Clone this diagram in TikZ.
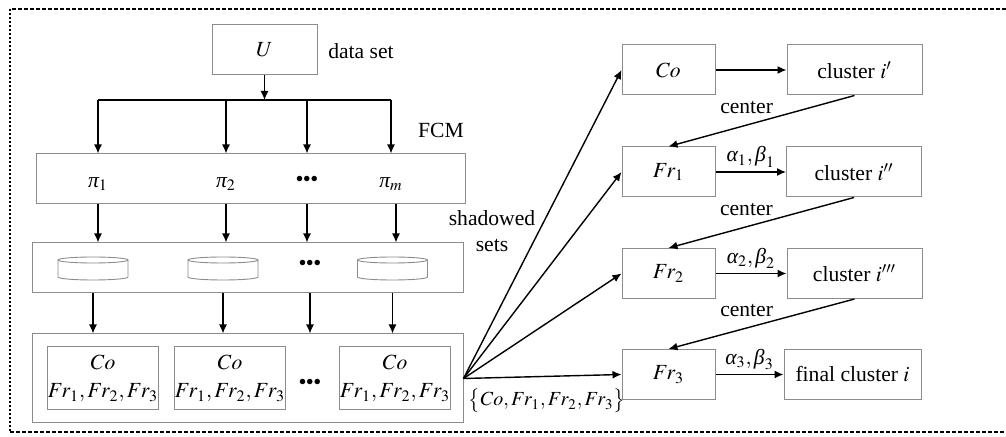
\documentclass[tikz,border=0pt]{standalone}
\usepackage{mathptmx}
\usepackage[no-math]{fontspec}
\setmainfont{Liberation Serif}
\usetikzlibrary{arrows.meta, positioning, calc, shapes.geometric}

\newcommand{\gpi}{\textit{π}}
\newcommand{\galpha}{\textit{α}}
\newcommand{\gbeta}{\textit{β}}

\tikzset{
  box/.style={draw=black!45, line width=0.5pt, minimum height=25pt, inner sep=0pt},
  can/.style={draw=black!45, line width=0.45pt},
  link/.style={->, line width=0.7pt},
  ddd/.style={font=\scriptsize, inner sep=0pt},
}

\begin{document}
\begin{tikzpicture}[x=0.5pt, y=-0.5pt, font=\fontsize{10.8}{12.8}\selectfont, >={Latex[length=4.5pt,width=4pt]}]
    \useasboundingbox (0,0) rectangle (1006,437);
    % frame
    \draw[line width=0.7pt, dash pattern=on 2pt off 1pt] (1006,9) -- (10,9);
    \draw[line width=1pt, dash pattern=on 1pt off 1pt] (10,9) -- (10,432);
    \draw[line width=0.7pt, dash pattern=on 2pt off 1pt] (10,432) -- (1006,432);

    % left part
    \node[box, minimum width=52.5pt] (U) at (264.5,49.5) {$U$};
    \node (dset) at (361,51) {data set};
    \coordinate (split) at (264.5,100);
    \node (fcm) at (441,130) {FCM};

    \node[box, minimum width=214.5pt] (pibox) at (250.5,179) {};
    \node (p1) at (98,184) {$\gpi_1$};
    \node (p2) at (226,184) {$\gpi_2$};
    \node[ddd] (pd) at (307,179) {$\bullet\!\bullet\!\bullet$};
    \node (pm) at (391,184) {$\gpi_m$};

    \node[box, minimum width=215.5pt] (cylbox) at (247.5,268) {};
    \foreach \i/\x in {1/93, 2/223, 3/392.5} {
      \coordinate (c\i) at (\x,268.5);
      \draw[can] (\x,260) ellipse [x radius=35, y radius=3];
      \draw[can] (\x-35,260) -- (\x-35,277) arc[start angle=180, end angle=0, x radius=35, y radius=3] -- (\x+35,260);
    }
    \node[ddd] (cd) at (310,263) {$\bullet\!\bullet\!\bullet$};

    \node[box, minimum width=215.5pt, minimum height=44.5pt] (resbox) at (247.5,378.5) {};
    \foreach \n/\x in {r1/103, r2/230, r3/395} {
      \node[box, minimum width=51pt, minimum height=31.5pt, align=center] (\n) at (\x,378.5)
        {$Co$\\[1.5pt]$Fr_1,Fr_2,Fr_3$};
    }
    \node[ddd] (rd) at (310,382) {$\bullet\!\bullet\!\bullet$};

    \draw[link] (U) -- (split);
    \draw[line width=0.7pt] (p1 |- split) -- (pm |- split);
    \foreach \p in {p1,p2,pd,pm} {
      \draw[link] (\p |- split) -- (\p |- pibox.north);
    }
    \draw[link] (p1 |- pibox.south) -- (p1 |- cylbox.north);
    \draw[link] (p2 |- pibox.south) -- (p2 |- cylbox.north);
    \draw[link] (pd |- pibox.south) -- (pd |- cylbox.north);
    \draw[link] ($(pm |- pibox.south)+(5,0)$) -- ($(pm |- cylbox.north)+(5,0)$);
    \foreach \c in {c1,c2,cd,c3} {
      \draw[link] (\c |- cylbox.south) -- (\c |- resbox.north);
    }

    % right part
    \node[box, minimum width=46.5pt] (co) at (668.5,70) {$Co$};
    \node[box, minimum width=46.5pt] (fr1) at (668.5,172) {$Fr_1$};
    \node[box, minimum width=46.5pt] (fr2) at (668.5,273.5) {$Fr_2$};
    \node[box, minimum width=46.5pt] (fr3) at (668.5,374.5) {$Fr_3$};
    \node[box, minimum width=67.5pt] (cl1) at (854.5,70) {cluster $i'$};
    \node[box, minimum width=67.5pt] (cl2) at (854,172) {cluster $i''$};
    \node[box, minimum width=67.5pt] (cl3) at (854.5,273.5) {cluster $i'''$};
    \node[box, minimum width=68.5pt] (cl4) at (852.5,374.5) {final cluster $i$};

    \foreach \t in {co,fr1,fr2,fr3} {
      \draw[link] (resbox.east) -- (\t.west);
    }
    \node[align=center, inner sep=1pt] (shsets) at (492,231) {shadowed\\[0pt]sets};
    \node[font=\fontsize{10}{12}\selectfont] (allsets) at (547,401) {$\bigl\{Co,Fr_1,Fr_2,Fr_3\bigr\}$};

    \draw[link] (co) -- (cl1);
    \draw[link] (fr1) -- node[above, inner sep=2pt] {$\galpha_1,\gbeta_1$} (cl2);
    \draw[link] (fr2) -- node[above, inner sep=2pt] {$\galpha_2,\gbeta_2$} (cl3);
    \draw[link] (fr3) -- node[above, inner sep=2pt] {$\galpha_3,\gbeta_3$} (cl4);

    \draw[link] (cl1.south) -- node[pos=0.58, above=2pt] {center} (fr1.north);
    \draw[link] (cl2.south) -- node[pos=0.58, above=2pt] {center} (fr2.north);
    \draw[link] (cl3.south) -- node[pos=0.58, above=2pt] {center} (fr3.north);
\end{tikzpicture}
\end{document}
